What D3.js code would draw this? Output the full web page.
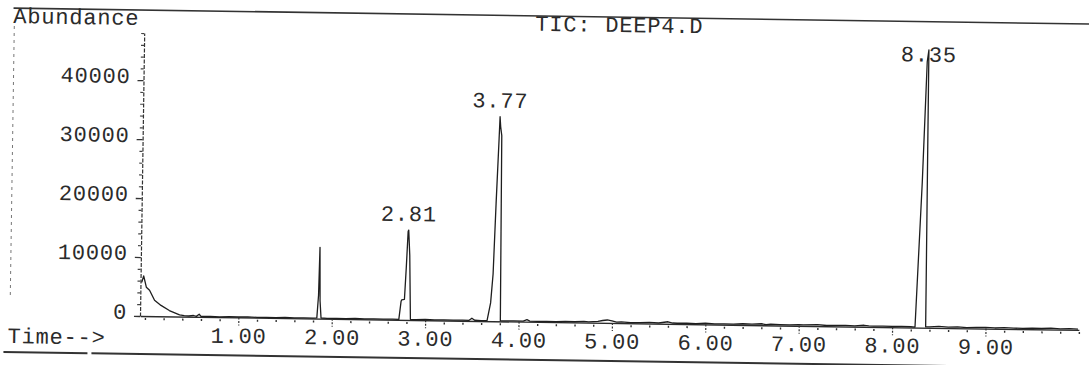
<!DOCTYPE html>
<html><head><meta charset="utf-8">
<script src="https://cdn.jsdelivr.net/npm/d3@7"></script>
<style>
html,body{margin:0;padding:0;background:#fff;overflow:hidden}
text{font-family:"Liberation Mono","Courier New",monospace;font-size:22px;fill:#2b2b2b;letter-spacing:0.8px}
</style></head><body>
<svg id="c" width="1089" height="365"></svg>
<script>
// ---- data ----
const retentionTimes = [
  -0.04,-0.02,0.01,0.045,0.10,0.17,0.26,0.37,0.42,0.47,0.52,0.55,0.58,0.60,0.70,0.80,0.90,1.00,1.10,1.20,
  1.30,1.40,1.50,1.60,1.70,1.80,1.84,1.855,1.863,1.872,1.885,1.95,2.05,2.15,2.25,2.35,2.45,2.55,2.65,
  2.718,2.739,2.746,2.775,2.79,2.804,2.81,2.825,2.842,2.90,3.00,3.10,3.20,3.30,3.40,3.47,3.50,3.53,3.60,
  3.663,3.698,3.72,3.741,3.763,3.77,3.778,3.791,3.805,3.85,3.95,4.05,4.09,4.12,4.20,4.30,4.40,4.50,4.60,
  4.70,4.75,4.85,4.90,4.95,5.00,5.05,5.10,5.20,5.30,5.40,5.50,5.60,5.65,5.70,5.80,5.90,6.00,6.10,6.20,
  6.30,6.40,6.50,6.60,6.65,6.70,6.80,6.90,7.00,7.05,7.20,7.30,7.40,7.50,7.60,7.70,7.75,7.80,7.90,8.00,
  8.10,8.20,8.245,8.30,8.334,8.35,8.353,8.359,8.40,8.50,8.60,8.70,8.80,8.90,9.00,9.10,9.20,9.30,9.40,
  9.50,9.60,9.70,9.80,9.90,9.99
];
const abundances = [
  5700,6800,4900,4400,2700,1850,1000,300,180,120,220,80,450,80,120,60,100,80,120,60,
  100,80,120,70,100,80,120,4000,12100,3000,120,80,100,70,120,80,100,80,120,
  80,3100,3400,3500,9000,15000,15250,11000,120,80,120,80,100,80,120,100,450,120,80,
  120,3100,8000,20000,31000,34700,33000,31500,120,80,120,100,350,120,80,120,80,150,120,
  200,120,250,400,500,350,150,200,120,150,200,120,350,150,120,150,120,200,120,150,
  120,200,150,250,120,200,150,120,200,150,250,120,150,200,120,250,150,120,150,120,
  150,120,80,24700,45100,47100,30000,120,150,250,150,200,120,150,200,120,200,150,120,
  200,150,250,120,200,150
];
const peakTimes  = [2.81, 3.77, 8.35];
const peakLabels = ["2.81", "3.77", "8.35"];
const xTickValues = [1,2,3,4,5,6,7,8,9];
const xTickLabels = ["1.00","2.00","3.00","4.00","5.00","6.00","7.00","8.00","9.00"];
const yTickValues = [0,10000,20000,30000,40000];
const yTickLabels = ["0","10000","20000","30000","40000"];
const titleText = "TIC: DEEP4.D";
const yTitle = "Abundance";
const xTitle = "Time-->";

// ---- layout ----
const svg = d3.select("#c");
const ox = 140, oy = 316;               // plot origin
const g = svg.append("g").attr("transform", `rotate(0.85, ${ox}, ${oy})`);

const x = d3.scaleLinear().domain([-0.05, 10]).range([ox + 0.3, 1079]);
const y = d3.scaleLinear().domain([0, 48000]).range([oy, 33]);

// page lines
g.append("line").attr("x1", 9).attr("x2", 1110).attr("y1", 10).attr("y2", 10)
  .attr("stroke", "#333").attr("stroke-width", 1.6);
g.append("line").attr("x1", 4).attr("x2", 88).attr("y1", 354).attr("y2", 354)
  .attr("stroke", "#333").attr("stroke-width", 2);
g.append("line").attr("x1", 92).attr("x2", 1110).attr("y1", 354).attr("y2", 354)
  .attr("stroke", "#333").attr("stroke-width", 2);
g.append("line").attr("x1", 10).attr("x2", 10).attr("y1", 28).attr("y2", 300)
  .attr("stroke", "#777").attr("stroke-width", 1).attr("stroke-dasharray", "3,4");

// x axis: minor ticks every 0.2
const xMinor = d3.range(0, 10.01, 0.2).map(v => +v.toFixed(1)).filter(v => !xTickValues.includes(v));
const xa = g.append("g").attr("transform", `translate(0,${oy})`)
  .call(d3.axisBottom(x).tickValues(xMinor).tickSize(4).tickSizeOuter(0).tickFormat(""));
xa.select(".domain").attr("stroke", "#2b2b2b").attr("stroke-width", 1.3);
xa.selectAll(".tick line").attr("stroke", "#333").attr("stroke-width", 1.4).attr("y1", 2);
const xb = g.append("g").attr("transform", `translate(0,${oy})`)
  .call(d3.axisBottom(x).tickValues(xTickValues).tickSize(8).tickPadding(2)
        .tickFormat((d, i) => xTickLabels[i]));
xb.select(".domain").remove();
xb.selectAll(".tick line").attr("stroke", "#333").attr("stroke-width", 1.2).attr("stroke-dasharray", "2,1.5");
xb.selectAll(".tick text").attr("fill", "#2b2b2b").style("font-size", "22px")
  .style("font-family", '"Liberation Mono","Courier New",monospace');

// y axis: minor ticks every 2000
const yMinor = d3.range(2000, 48001, 2000).filter(v => !yTickValues.includes(v));
const ya = g.append("g").attr("transform", `translate(${ox},0)`)
  .call(d3.axisLeft(y).tickValues(yMinor).tickSize(3).tickSizeOuter(0).tickFormat(""));
ya.select(".domain").attr("stroke", "#333").attr("stroke-width", 1.2).attr("stroke-dasharray", "4,1.5");
ya.selectAll(".tick line").attr("stroke", "#444").attr("stroke-width", 1.2);
const yb = g.append("g").attr("transform", `translate(${ox},0)`)
  .call(d3.axisLeft(y).tickValues(yTickValues).tickSize(6).tickPadding(7)
        .tickFormat((d, i) => yTickLabels[i]));
yb.select(".domain").remove();
yb.selectAll(".tick line").attr("stroke", "#333").attr("stroke-width", 1.3);
yb.selectAll(".tick text").attr("fill", "#2b2b2b").attr("dy", "0.12em").style("font-size", "22px")
  .style("font-family", '"Liberation Mono","Courier New",monospace');

// trace
const pts = retentionTimes.map((t, i) => [t, abundances[i]]);
g.append("path").datum(pts)
  .attr("fill", "none").attr("stroke", "#1e1e1e").attr("stroke-width", 1.3)
  .attr("stroke-linejoin", "round")
  .attr("d", d3.line().x(d => x(d[0])).y(d => y(d[1])));

// peak labels
peakTimes.forEach((t, i) => {
  let apex = 0;
  pts.forEach(p => { if (Math.abs(p[0] - t) < 0.06) apex = Math.max(apex, p[1]); });
  g.append("text").attr("x", x(t)).attr("y", Math.max(y(apex) - 9, 50))
    .attr("text-anchor", "middle").text(peakLabels[i]);
});

// titles
g.append("text").attr("x", 9).attr("y", 25).text(yTitle);
g.append("text").attr("x", 531).attr("y", 25).text(titleText);
g.append("text").attr("x", 8).attr("y", 345).text(xTitle);
</script>
</body></html>
